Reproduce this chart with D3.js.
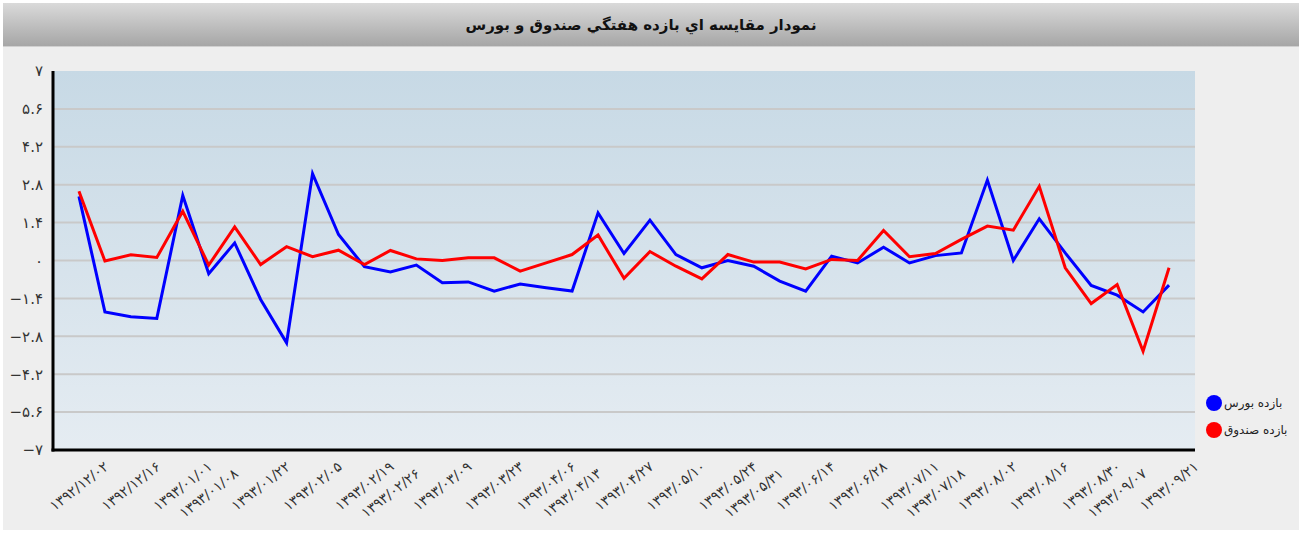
<!DOCTYPE html>
<html lang="fa">
<head>
<meta charset="UTF-8">
<title>weekly return</title>
<script src="https://cdn.jsdelivr.net/npm/d3@7"></script>
<style>
    body { margin: 0; background: #ffffff; }
    .y_Axis text, .x_lbl { font-family: "DejaVu Sans", sans-serif; fill: #333; }
</style>
</head>
<body>
<script>
    // weekly dates (Persian calendar)
    let weeks = ["۱۳۹۲/۱۲/۰۲","۱۳۹۲/۱۲/۰۹","۱۳۹۲/۱۲/۱۶","۱۳۹۲/۱۲/۲۳","۱۳۹۳/۰۱/۰۱","۱۳۹۳/۰۱/۰۸","۱۳۹۳/۰۱/۱۵","۱۳۹۳/۰۱/۲۲","۱۳۹۳/۰۱/۲۹",
        "۱۳۹۳/۰۲/۰۵","۱۳۹۳/۰۲/۱۲","۱۳۹۳/۰۲/۱۹","۱۳۹۳/۰۲/۲۶","۱۳۹۳/۰۳/۰۲","۱۳۹۳/۰۳/۰۹","۱۳۹۳/۰۳/۱۶","۱۳۹۳/۰۳/۲۳","۱۳۹۳/۰۳/۳۰",
        "۱۳۹۳/۰۴/۰۶","۱۳۹۳/۰۴/۱۳","۱۳۹۳/۰۴/۲۰","۱۳۹۳/۰۴/۲۷","۱۳۹۳/۰۵/۰۳","۱۳۹۳/۰۵/۱۰","۱۳۹۳/۰۵/۱۷","۱۳۹۳/۰۵/۲۴","۱۳۹۳/۰۵/۳۱",
        "۱۳۹۳/۰۶/۰۷","۱۳۹۳/۰۶/۱۴","۱۳۹۳/۰۶/۲۱","۱۳۹۳/۰۶/۲۸","۱۳۹۳/۰۷/۰۴","۱۳۹۳/۰۷/۱۱","۱۳۹۳/۰۷/۱۸","۱۳۹۳/۰۷/۲۵","۱۳۹۳/۰۸/۰۲",
        "۱۳۹۳/۰۸/۰۹","۱۳۹۳/۰۸/۱۶","۱۳۹۳/۰۸/۲۳","۱۳۹۳/۰۸/۳۰","۱۳۹۳/۰۹/۰۷","۱۳۹۳/۰۹/۱۴","۱۳۹۳/۰۹/۲۱"];

    // labels that are printed under the axis
    let shownLabels = ["۱۳۹۲/۱۲/۰۲","۱۳۹۲/۱۲/۱۶","۱۳۹۳/۰۱/۰۱","۱۳۹۳/۰۱/۰۸","۱۳۹۳/۰۱/۲۲","۱۳۹۳/۰۲/۰۵","۱۳۹۳/۰۲/۱۹","۱۳۹۳/۰۲/۲۶",
        "۱۳۹۳/۰۳/۰۹","۱۳۹۳/۰۳/۲۳","۱۳۹۳/۰۴/۰۶","۱۳۹۳/۰۴/۱۳","۱۳۹۳/۰۴/۲۷","۱۳۹۳/۰۵/۱۰","۱۳۹۳/۰۵/۲۴","۱۳۹۳/۰۵/۳۱","۱۳۹۳/۰۶/۱۴",
        "۱۳۹۳/۰۶/۲۸","۱۳۹۳/۰۷/۱۱","۱۳۹۳/۰۷/۱۸","۱۳۹۳/۰۸/۰۲","۱۳۹۳/۰۸/۱۶","۱۳۹۳/۰۸/۳۰","۱۳۹۳/۰۹/۰۷","۱۳۹۳/۰۹/۲۱"];

    // بازده بورس
    let bourse = [2.37, -1.90, -2.08, -2.14, 2.40, -0.49, 0.65, -1.44, -3.04, 3.21, 0.96, -0.23, -0.42, -0.17, -0.82,
        -0.79, -1.13, -0.87, -1.01, -1.13, 1.76, 0.26, 1.49, 0.22, -0.27, 0.00, -0.21, -0.76, -1.13, 0.16,
        -0.09, 0.49, -0.09, 0.18, 0.28, 2.97, 0.00, 1.54, 0.28, -0.92, -1.28, -1.90, -0.91];

    // بازده صندوق
    let fund = [2.56, -0.02, 0.21, 0.11, 1.82, -0.17, 1.24, -0.15, 0.51, 0.14, 0.38, -0.15, 0.37, 0.06, 0.00,
        0.10, 0.10, -0.39, -0.09, 0.22, 0.94, -0.66, 0.33, -0.21, -0.68, 0.22, -0.06, -0.06, -0.31, 0.04,
        0.00, 1.11, 0.14, 0.26, 0.78, 1.27, 1.12, 2.74, -0.27, -1.59, -0.89, -3.35, -0.27];

    let yTicks = [-7, -5.6, -4.2, -2.8, -1.4, 0, 1.4, 2.8, 4.2, 5.6, 7];
    let yTickLabels = ["−۷","−۵.۶","−۴.۲","−۲.۸","−۱.۴","۰","۱.۴","۲.۸","۴.۲","۵.۶","۷"];

    let title = "نمودار مقايسه اي بازده هفتگي صندوق و بورس";
    let seriesNames = ["بازده بورس", "بازده صندوق"];
    let colors = ["#0000ff", "#ff0000"];

    let width = 1302, height = 533;
    let pLeft = 53, pRight = 1195, pTop = 71, pBottom = 450;

    let svg = d3.select("body").append("svg")
        .attr("width", width)
        .attr("height", height);

    let defs = svg.append("defs");
    let tg = defs.append("linearGradient").attr("id", "titleGrad")
        .attr("x1", 0).attr("y1", 0).attr("x2", 0).attr("y2", 1);
    tg.append("stop").attr("offset", "0%").attr("stop-color", "#dadada");
    tg.append("stop").attr("offset", "100%").attr("stop-color", "#a6a6a6");
    let pg = defs.append("linearGradient").attr("id", "plotGrad")
        .attr("x1", 0).attr("y1", 0).attr("x2", 0).attr("y2", 1);
    pg.append("stop").attr("offset", "0%").attr("stop-color", "#c7d9e5");
    pg.append("stop").attr("offset", "100%").attr("stop-color", "#e5ecf2");

    // panel + title bar
    svg.append("rect").attr("x", 3).attr("y", 3).attr("width", width - 6).attr("height", height - 6)
        .attr("fill", "#eeeeee");
    svg.append("rect").attr("x", 3).attr("y", 3).attr("width", width - 6).attr("height", 43)
        .attr("fill", "url(#titleGrad)");
    svg.append("line").attr("x1", 3).attr("x2", width - 3).attr("y1", 46.5).attr("y2", 46.5)
        .attr("stroke", "#d0d0d0");
    svg.append("text")
        .text(title)
        .attr("x", 641).attr("y", 30)
        .attr("text-anchor", "middle")
        .attr("font-family", "DejaVu Sans, sans-serif")
        .attr("font-size", "15px")
        .attr("font-weight", "bold")
        .attr("fill", "#111");

    // scales
    let xScale = d3.scalePoint()
        .domain(weeks)
        .range([pLeft, pRight])
        .padding(1);

    let yScale = d3.scaleLinear()
        .domain([-7, 7])
        .range([pBottom, pTop]);

    svg.append("rect")
        .attr("x", pLeft).attr("y", pTop)
        .attr("width", pRight - pLeft).attr("height", pBottom - pTop)
        .attr("fill", "url(#plotGrad)");

    // grid
    svg.append("g").selectAll("line")
        .data(yTicks.filter(d => d > -7 && d < 7))
        .join("line")
        .attr("x1", pLeft).attr("x2", pRight)
        .attr("y1", d => yScale(d)).attr("y2", d => yScale(d))
        .attr("stroke", "#c9c9c9")
        .attr("stroke-width", 2);

    // y axis
    let yAxis = d3.axisLeft(yScale)
        .tickValues(yTicks)
        .tickSize(0)
        .tickPadding(10)
        .tickFormat((d, i) => yTickLabels[i]);

    let yg = svg.append("g")
        .attr("class", "y_Axis")
        .attr("transform", "translate(" + pLeft + ",0)")
        .call(yAxis);
    yg.select(".domain").remove();
    yg.selectAll("text").attr("font-size", "15px").attr("fill", "#333");

    // x labels
    let shownIdx = shownLabels.map(s => weeks.indexOf(s));
    svg.append("g").selectAll("text")
        .data(shownLabels)
        .join("text")
        .attr("class", "x_lbl")
        .text(d => d)
        .attr("font-size", "14px")
        .attr("text-anchor", "middle")
        .attr("transform", function (d, i) {
            let stag = i > 0 && shownIdx[i] - shownIdx[i - 1] === 1;
            let y = stag ? 493 : 486;
            return "translate(" + xScale(d) + "," + y + ") rotate(-38)";
        })
        .attr("dy", "0.35em");

    // axis lines
    svg.append("line").attr("x1", pLeft).attr("x2", pLeft).attr("y1", pTop).attr("y2", pBottom + 1.5)
        .attr("stroke", "#000").attr("stroke-width", 3);
    svg.append("line").attr("x1", pLeft - 1.5).attr("x2", pRight).attr("y1", pBottom).attr("y2", pBottom)
        .attr("stroke", "#000").attr("stroke-width", 3);

    // lines
    let line = d3.line()
        .x((d, i) => xScale(weeks[i]))
        .y(d => yScale(d));

    [bourse, fund].forEach(function (s, k) {
        svg.append("path")
            .attr("d", line(s))
            .attr("fill", "none")
            .attr("stroke", colors[k])
            .attr("stroke-width", 3)
            .attr("stroke-linejoin", "miter");
    });

    // legend
    let lg = svg.append("g").selectAll("g")
        .data(seriesNames)
        .join("g")
        .attr("transform", (d, i) => "translate(1214," + (403 + i * 27) + ")");
    lg.append("circle").attr("r", 8).attr("fill", (d, i) => colors[i]);
    lg.append("text")
        .text(d => d)
        .attr("x", 10).attr("dy", "0.35em")
        .attr("font-family", "DejaVu Sans, sans-serif")
        .attr("font-size", "12px")
        .attr("fill", "#222");
</script>
</body>
</html>
